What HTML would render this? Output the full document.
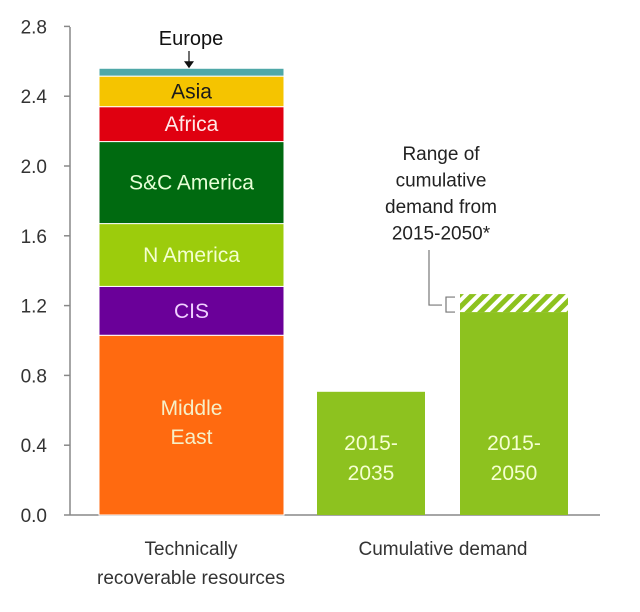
<!DOCTYPE html>
<html><head><meta charset="utf-8"><style>
body{margin:0;background:#fff;}
svg{display:block;font-family:"Liberation Sans",sans-serif;}
</style></head><body>
<svg id="chart" width="640" height="612">
<defs>
<pattern id="hatch" patternUnits="userSpaceOnUse" width="9" height="9" patternTransform="rotate(45)">
<rect width="9" height="9" fill="#fff"/><rect width="5" height="9" fill="#8dc21f"/>
</pattern>
</defs>
</svg>
<script>
const ticks=[0,0.4,0.8,1.2,1.6,2.0,2.4,2.8];
const regions=["Middle East","CIS","N America","S&C America","Africa","Asia","Europe"];
const regionValues=[1.03,0.28,0.36,0.47,0.20,0.175,0.045];
const demandCats=["2015-2035","2015-2050"];
const demandValues=[0.706,1.163];
const demandRangeTop=1.266;
const colors=["#ff6a10","#6a0099","#9ccc0c","#006a10","#e00010","#f5c400","#4fa8a8"];
const textColors=["#f6f0c8","#f0d0ff","#f4ffd0","#e8ffd8","#ffe8e8","#1a1a1a",null];
const svg=document.getElementById('chart');
const NS='http://www.w3.org/2000/svg';
const y0=515,pxPer=174.5;
const y=v=>y0-v*pxPer;
function mk(t,a,p){const e=document.createElementNS(NS,t);for(const k in a)e.setAttribute(k,a[k]);(p||svg).appendChild(e);return e;}
const ax=mk('line',{x1:70,y1:27,x2:70,y2:y0,stroke:'#888','stroke-width':1.5});


const bl=mk('line',{x1:70,y1:y0,x2:600,y2:y0,stroke:'#888','stroke-width':1.5});


ticks.forEach(t=>{
 const l=mk('line',{x1:64,y1:y(t),x2:70,y2:y(t),stroke:'#888','stroke-width':1.5});
 
 
 const tx=mk('text',{x:47,y:y(t)+7,'text-anchor':'end','font-size':19,fill:'#333'});
 tx.textContent=t.toFixed(1);
 
 
});
let cum=0;
const bx=99,bw=185;
regions.forEach((r,i)=>{
 const top=cum+regionValues[i];
 const rc=mk('rect',{x:bx,y:y(top),width:bw,height:y(cum)-y(top),fill:colors[i],stroke:'#fff','stroke-width':1});
 
 
 const mid=(y(cum)+y(top))/2;
 if(textColors[i]){
  if(r==="Middle East"){
   ["Middle","East"].forEach((w,k)=>{const t=mk('text',{x:bx+bw/2,y:mid+7-17+k*29,'text-anchor':'middle','font-size':21,fill:textColors[i]});t.textContent=w;
    
    });
  }else{
   const t=mk('text',{x:bx+bw/2,y:mid+7,'text-anchor':'middle','font-size':21,fill:textColors[i]});t.textContent=r;
   
   
  }
 }
 cum=top;
});
const eu=mk('text',{x:191,y:45,'text-anchor':'middle','font-size':20,fill:'#111'});eu.textContent="Europe";


mk('line',{x1:189,y1:51,x2:189,y2:y(cum)-4,stroke:'#111','stroke-width':1.2});
mk('path',{d:`M184 ${y(cum)-7} L194 ${y(cum)-7} L189 ${y(cum)} Z`,fill:'#111'});
const dx=[317,460],dw=108;
demandCats.forEach((c,i)=>{
 const r=mk('rect',{x:dx[i],y:y(demandValues[i]),width:dw,height:y0-y(demandValues[i]),fill:'#8dc21f'});
 
 
 const p=c.split('-');
 [p[0]+'-',p[1]].forEach((w,k)=>{const t=mk('text',{x:dx[i]+dw/2,y:450+k*30,'text-anchor':'middle','font-size':21,fill:'#f4ffd0'});t.textContent=w;
  
  });
});
const h=mk('rect',{x:dx[1],y:y(demandRangeTop),width:dw,height:y(demandValues[1])-y(demandRangeTop),fill:'url(#hatch)'});


const yt=y(demandRangeTop),yb=y(demandValues[1]);
mk('path',{d:`M429 250 V${(yt+yb)/2+2} H442 M455 ${yt+3} H446 V${yb} H455`,fill:'none',stroke:'#777','stroke-width':1.2});
["Range of","cumulative","demand from","2015-2050*"].forEach((w,k)=>{
 const t=mk('text',{x:441,y:160+k*26.5,'text-anchor':'middle','font-size':19,fill:'#222'});t.textContent=w;
 
 
});
[["Technically",191,555],["recoverable resources",191,584],["Cumulative demand",443,555]].forEach(a=>{
 const t=mk('text',{x:a[1],y:a[2],'text-anchor':'middle','font-size':19,fill:'#333'});t.textContent=a[0];
 
 
});
</script>
</body></html>
